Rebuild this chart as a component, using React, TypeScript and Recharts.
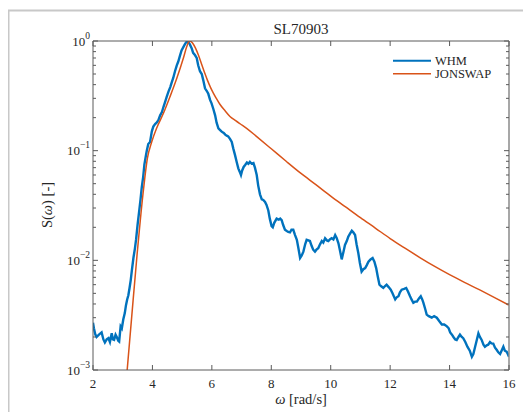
import { LineChart, Line, XAxis, YAxis } from "recharts";

const omegaWHM = [
  2.0, 2.03, 2.08, 2.12, 2.2, 2.29, 2.35, 2.4, 2.46, 2.52, 2.57, 2.63, 2.67, 2.71, 2.76, 2.8, 2.85, 2.88, 2.93, 2.97,
  3.02, 3.07, 3.11, 3.15, 3.19, 3.23, 3.27, 3.31, 3.36, 3.41, 3.45, 3.5, 3.56, 3.6, 3.64, 3.69, 3.73, 3.78, 3.81, 3.86,
  3.92, 3.98, 4.03, 4.09, 4.14, 4.2, 4.26, 4.32, 4.37, 4.43, 4.48, 4.54, 4.6, 4.65, 4.7, 4.76, 4.82, 4.87, 4.93, 4.98,
  5.04, 5.09, 5.13, 5.17, 5.21, 5.26, 5.32, 5.37, 5.43, 5.49, 5.54, 5.6, 5.66, 5.71, 5.77, 5.83, 5.88, 5.94, 5.99, 6.05,
  6.11, 6.16, 6.22, 6.27, 6.33, 6.4, 6.45, 6.5, 6.55, 6.61, 6.67, 6.72, 6.78, 6.84, 6.89, 6.94, 6.98, 7.02, 7.07, 7.12,
  7.18, 7.23, 7.28, 7.34, 7.4, 7.45, 7.51, 7.56, 7.62, 7.68, 7.73, 7.79, 7.84, 7.9, 7.95, 8.01, 8.05, 8.1, 8.18, 8.25,
  8.3, 8.35, 8.4, 8.46, 8.52, 8.57, 8.63, 8.68, 8.74, 8.8, 8.86, 8.91, 8.97, 9.02, 9.08, 9.14, 9.19, 9.25, 9.3, 9.36,
  9.41, 9.47, 9.52, 9.58, 9.64, 9.7, 9.75, 9.81, 9.87, 9.92, 9.98, 10.03, 10.09, 10.15, 10.2, 10.26, 10.32, 10.37, 10.43, 10.48,
  10.54, 10.59, 10.65, 10.71, 10.76, 10.82, 10.87, 10.93, 10.98, 11.04, 11.1, 11.16, 11.21, 11.27, 11.34, 11.41, 11.47, 11.53, 11.58, 11.64,
  11.7, 11.77, 11.82, 11.88, 11.95, 12.02, 12.08, 12.17, 12.22, 12.28, 12.33, 12.39, 12.47, 12.54, 12.6, 12.67, 12.72, 12.78, 12.84, 12.9,
  12.97, 13.03, 13.08, 13.12, 13.18, 13.23, 13.3, 13.4, 13.48, 13.57, 13.65, 13.74, 13.82, 13.91, 13.97, 14.02, 14.08, 14.13, 14.19, 14.24,
  14.3, 14.35, 14.41, 14.46, 14.53, 14.6, 14.68, 14.75, 14.8, 14.86, 14.92, 14.97, 15.02, 15.08, 15.14, 15.19, 15.25, 15.3, 15.36, 15.41,
  15.47, 15.53, 15.59, 15.64, 15.7, 15.75, 15.81, 15.86, 15.92, 15.96, 16.0,
];
const sWHM = [
  0.0027, 0.0024, 0.0021, 0.002, 0.0021, 0.0022, 0.0019, 0.00178, 0.0019, 0.00195, 0.0018, 0.00216, 0.0019, 0.00188, 0.0021, 0.002, 0.00185, 0.00182, 0.0025, 0.0024,
  0.0029, 0.0033, 0.0039, 0.0044, 0.0048, 0.0056, 0.0066, 0.0082, 0.0105, 0.0128, 0.0155, 0.021, 0.029, 0.036, 0.046, 0.058, 0.075, 0.09, 0.1, 0.115,
  0.12, 0.15, 0.166, 0.175, 0.18, 0.19, 0.21, 0.225, 0.25, 0.28, 0.31, 0.345, 0.38, 0.42, 0.46, 0.53, 0.6, 0.65, 0.74, 0.82,
  0.88, 0.93, 0.97, 0.99, 0.975, 0.93, 0.86, 0.78, 0.745, 0.7, 0.6, 0.53, 0.5, 0.44, 0.37, 0.35, 0.33, 0.29, 0.27, 0.24,
  0.21, 0.18, 0.16, 0.155, 0.149, 0.145, 0.14, 0.137, 0.135, 0.128, 0.12, 0.105, 0.091, 0.078, 0.069, 0.064, 0.06, 0.066, 0.071, 0.074,
  0.078, 0.076, 0.079, 0.076, 0.077, 0.07, 0.06, 0.048, 0.04, 0.036, 0.0355, 0.034, 0.032, 0.0285, 0.024, 0.0205, 0.02, 0.022, 0.024, 0.0235,
  0.024, 0.0233, 0.021, 0.019, 0.0185, 0.0182, 0.018, 0.019, 0.019, 0.017, 0.0154, 0.013, 0.0105, 0.011, 0.012, 0.014, 0.0154, 0.0152, 0.015, 0.0135,
  0.0125, 0.012, 0.0125, 0.0129, 0.014, 0.015, 0.0145, 0.0159, 0.0152, 0.015, 0.0156, 0.0159, 0.0155, 0.017, 0.016, 0.0143, 0.012, 0.0102, 0.012, 0.0138,
  0.015, 0.0164, 0.0175, 0.0186, 0.018, 0.017, 0.014, 0.0116, 0.0095, 0.0079, 0.0083, 0.0085, 0.009, 0.0097, 0.0102, 0.0105, 0.0097, 0.0085, 0.0072, 0.006,
  0.0058, 0.0056, 0.0058, 0.006, 0.0057, 0.0054, 0.005, 0.0044, 0.0046, 0.0047, 0.0051, 0.0054, 0.0055, 0.0056, 0.0052, 0.0047, 0.0044, 0.0041, 0.0042, 0.0042,
  0.0045, 0.0047, 0.0044, 0.0041, 0.0036, 0.0032, 0.0031, 0.003, 0.0031, 0.003, 0.0028, 0.0026, 0.0026, 0.0025, 0.0024, 0.0022, 0.0021, 0.002, 0.0019, 0.00188,
  0.002, 0.0021, 0.002, 0.00195, 0.0018, 0.00163, 0.0015, 0.00132, 0.0014, 0.00163, 0.0019, 0.00216, 0.002, 0.00188, 0.0017, 0.00163, 0.00168, 0.0017, 0.0018, 0.00175,
  0.00174, 0.0016, 0.00152, 0.00145, 0.0014, 0.0015, 0.00163, 0.0015, 0.00147, 0.0014, 0.00132,
];

// JONSWAP fit
const omegaJON = [
  3.15, 3.3, 3.48, 3.69, 3.83, 3.98, 4.14, 4.37, 4.59, 4.82, 5.04, 5.15, 5.21, 5.26, 5.35, 5.45, 5.55, 5.65, 5.75, 5.85,
  5.95, 6.05, 6.15, 6.27, 6.45, 6.61, 6.8, 6.95, 7.17, 7.5, 8.0, 8.5, 9.0, 9.5, 10.0, 10.5, 11.0, 11.5, 12.0, 12.5,
  13.0, 13.5, 14.0, 14.5, 15.0, 15.5, 16.0,
];
const sJON = [
  0.001, 0.003, 0.011, 0.042, 0.085, 0.121, 0.16, 0.219, 0.31, 0.457, 0.695, 0.88, 0.97, 1.0, 0.96, 0.86, 0.74, 0.62, 0.52, 0.44,
  0.38, 0.335, 0.3, 0.265, 0.23, 0.205, 0.188, 0.176, 0.16, 0.135, 0.104, 0.08, 0.062, 0.049, 0.0385, 0.0307, 0.0245, 0.0197, 0.0158, 0.0129,
  0.0106, 0.0088, 0.0074, 0.0063, 0.0054, 0.0046, 0.0039,
];

const xTicks = [2, 4, 6, 8, 10, 12, 14, 16];
const yTicks = [
  0.001, 0.002, 0.003, 0.004, 0.005, 0.006, 0.007, 0.008, 0.009,
  0.01, 0.02, 0.03, 0.04, 0.05, 0.06, 0.07, 0.08, 0.09,
  0.1, 0.2, 0.3, 0.4, 0.5, 0.6, 0.7, 0.8, 0.9, 1,
];
const majorTicks = [0.001, 0.01, 0.1, 1];
const legendNames = ["WHM", "JONSWAP"];

const whmData = omegaWHM.map((w, i) => ({ w, s: sWHM[i] }));
const jonData = omegaJON.map((w, i) => ({ w, s: sJON[i] }));

const serif = "Liberation Serif, Times New Roman, serif";
const axisColor = "#5a5a5a";
const textColor = "#262626";
const blue = "#0072BD";
const orange = "#D95319";

const BottomTick = (props: any) => {
  const { x, y, payload } = props;
  return (
    <g>
      <line x1={x} x2={x} y1={y} y2={y - 5} stroke={axisColor} />
      <text x={x} y={y + 17.5} textAnchor="middle" fontSize={13} style={{ fontFamily: serif }} fill={textColor}>
        {payload.value}
      </text>
    </g>
  );
};

const TopTick = (props: any) => {
  const { x, y } = props;
  return <line x1={x} x2={x} y1={y} y2={y + 5} stroke={axisColor} />;
};

const isMajor = (v: number) => majorTicks.some((m) => Math.abs(m - v) < 1e-9);

const LeftTick = (props: any) => {
  const { x, y, payload } = props;
  const v = payload.value;
  const major = isMajor(v);
  const exp = Math.round(Math.log10(v));
  return (
    <g>
      <line x1={x} x2={x + (major ? 5 : 3)} y1={y} y2={y} stroke={axisColor} />
      {major && (
        <text x={x - 3} y={y + 4.5} textAnchor="end" fontSize={13} style={{ fontFamily: serif }} fill={textColor}>
          10
          <tspan dy={-7} fontSize={9.5}>
            {exp === 0 ? "0" : "\u2212" + -exp}
          </tspan>
        </text>
      )}
    </g>
  );
};

const RightTick = (props: any) => {
  const { x, y, payload } = props;
  const major = isMajor(payload.value);
  return <line x1={x} x2={x - (major ? 5 : 3)} y1={y} y2={y} stroke={axisColor} />;
};

export default function App() {
  return (
    <div style={{ position: "relative", width: 523, height: 404 }}>
      <LineChart width={515} height={404} margin={{ top: 0, right: 0, bottom: 0, left: 0 }}>
        <XAxis
          xAxisId="bottom"
          type="number"
          dataKey="w"
          domain={[2, 16]}
          ticks={xTicks}
          interval={0}
          allowDataOverflow
          height={42}
          tickSize={0}
          tickMargin={0}
          tickLine={false}
          axisLine={{ stroke: axisColor }}
          tick={<BottomTick />}
        />
        <XAxis
          xAxisId="top"
          orientation="top"
          type="number"
          dataKey="w"
          domain={[2, 16]}
          ticks={xTicks}
          interval={0}
          allowDataOverflow
          height={33}
          tickSize={0}
          tickMargin={0}
          tickLine={false}
          axisLine={{ stroke: axisColor }}
          tick={<TopTick />}
        />
        <YAxis
          yAxisId="left"
          type="number"
          scale="log"
          domain={[0.001, 1]}
          ticks={yTicks}
          interval={0}
          allowDataOverflow
          width={85}
          tickSize={0}
          tickMargin={0}
          tickLine={false}
          axisLine={{ stroke: axisColor }}
          tick={<LeftTick />}
        />
        <YAxis
          yAxisId="right"
          orientation="right"
          type="number"
          scale="log"
          domain={[0.001, 1]}
          ticks={yTicks}
          interval={0}
          allowDataOverflow
          width={14}
          tickSize={0}
          tickMargin={0}
          tickLine={false}
          axisLine={{ stroke: "#8a8a8a", strokeWidth: 1.5 }}
          tick={<RightTick />}
        />
        <Line
          data={whmData}
          dataKey="s"
          xAxisId="bottom"
          yAxisId="left"
          type="linear"
          stroke={blue}
          strokeWidth={2.4}
          dot={false}
          isAnimationActive={false}
        />
        <Line
          data={jonData}
          dataKey="s"
          xAxisId="bottom"
          yAxisId="left"
          type="monotone"
          stroke={orange}
          strokeWidth={1.5}
          dot={false}
          isAnimationActive={false}
        />
      </LineChart>
      <svg
        width={523}
        height={404}
        style={{ position: "absolute", left: 0, top: 0, pointerEvents: "none", overflow: "visible", fontFamily: serif }}
      >
        <line x1={0} x2={523} y1={2.5} y2={2.5} stroke="#c8c8c8" strokeWidth={2} />
        <line x1={0.5} x2={0.5} y1={2.5} y2={404} stroke="#c8c8c8" strokeWidth={2} />
        <text x={293} y={25.5} textAnchor="middle" fontSize={15} fill={textColor}>
          SL70903
        </text>
        <text x={293} y={396} textAnchor="middle" fontSize={14.5} fill={textColor}>
          <tspan fontStyle="italic">ω</tspan> [rad/s]
        </text>
        <text transform="translate(44,197) rotate(-90)" textAnchor="middle" fontSize={14.5} fill={textColor}>
          S(<tspan fontStyle="italic">ω</tspan>) [-]
        </text>
        <line x1={385} x2={423} y1={52.7} y2={52.7} stroke={blue} strokeWidth={2} />
        <text x={427} y={56.5} fontSize={12.5} fill={textColor}>
          {legendNames[0]}
        </text>
        <line x1={385} x2={423} y1={65.7} y2={65.7} stroke={orange} strokeWidth={1.5} />
        <text x={427} y={69.5} fontSize={12.5} fill={textColor}>
          {legendNames[1]}
        </text>
      </svg>
    </div>
  );
}
